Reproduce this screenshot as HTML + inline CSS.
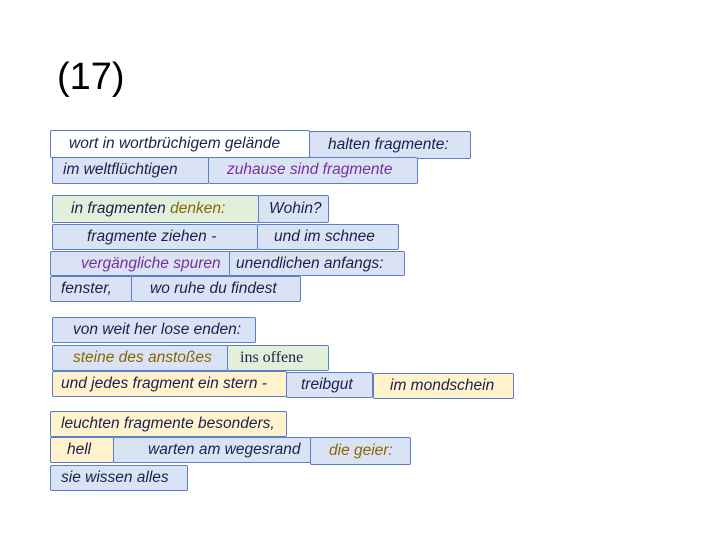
<!DOCTYPE html>
<html><head><meta charset="utf-8"><style>
body{margin:0;width:720px;height:540px;background:#fff;position:relative;overflow:hidden;font-family:"Liberation Sans",sans-serif}
.t{position:absolute;left:57px;top:56px;font-size:38px;color:#000}
.b{position:absolute;box-sizing:border-box;border:1.5px solid #5b7fc7;background:#dae3f3;color:#1c2050;font-size:15.5px;font-style:italic;line-height:23px;white-space:nowrap;padding-left:10px;border-radius:2px;overflow:hidden}
.w{background:#fff}.y{background:#fff2cc}.g{background:#e2efda}
.p{color:#7a2fa0}.o{color:#8a6500}
</style></head><body>
<div class="t">(17)</div>
<div class="b w" style="left:50px;top:130px;width:260px;height:28px;padding-left:18px;line-height:25px">wort in wortbrüchigem gelände</div>
<div class="b" style="left:309px;top:131px;width:162px;height:28px;padding-left:18px;line-height:25px">halten fragmente:</div>
<div class="b" style="left:52px;top:157px;width:157px;height:27px">im weltflüchtigen</div>
<div class="b p" style="left:208px;top:157px;width:210px;height:27px;padding-left:18px">zuhause sind fragmente</div>
<div class="b g" style="left:52px;top:195px;width:207px;height:28px;padding-left:18px;line-height:25px">in fragmenten <span class="o">denken:</span></div>
<div class="b" style="left:258px;top:195px;width:71px;height:28px;line-height:25px">Wohin?</div>
<div class="b" style="left:52px;top:224px;width:206px;height:26px;padding-left:34px">fragmente ziehen -</div>
<div class="b" style="left:257px;top:224px;width:142px;height:26px;padding-left:16px">und im schnee</div>
<div class="b p" style="left:50px;top:251px;width:180px;height:25px;padding-left:30px">vergängliche spuren</div>
<div class="b" style="left:229px;top:251px;width:176px;height:25px;padding-left:6px">unendlichen anfangs:</div>
<div class="b" style="left:50px;top:276px;width:82px;height:26px;padding-left:10px">fenster,</div>
<div class="b" style="left:131px;top:276px;width:170px;height:26px;padding-left:18px">wo ruhe du findest</div>
<div class="b" style="left:52px;top:317px;width:204px;height:26px;padding-left:20px">von weit her lose enden:</div>
<div class="b o" style="left:52px;top:345px;width:176px;height:26px;padding-left:20px">steine des anstoßes</div>
<div class="b g" style="left:227px;top:345px;width:102px;height:26px;font-family:'Liberation Serif',serif;font-style:normal;font-size:16px;padding-left:12px">ins offene</div>
<div class="b y" style="left:52px;top:371px;width:235px;height:26px;padding-left:8px">und jedes fragment ein stern -</div>
<div class="b" style="left:286px;top:372px;width:87px;height:26px;padding-left:14px">treibgut</div>
<div class="b y" style="left:373px;top:373px;width:141px;height:26px;padding-left:16px">im mondschein</div>
<div class="b y" style="left:50px;top:411px;width:237px;height:26px;padding-left:10px">leuchten fragmente besonders,</div>
<div class="b y" style="left:50px;top:437px;width:64px;height:26px;padding-left:16px">hell</div>
<div class="b" style="left:113px;top:437px;width:198px;height:26px;padding-left:34px">warten am wegesrand</div>
<div class="b o" style="left:310px;top:437px;width:101px;height:28px;padding-left:18px;line-height:25px">die geier:</div>
<div class="b" style="left:50px;top:465px;width:138px;height:26px;padding-left:10px">sie wissen alles</div>
</body></html>
